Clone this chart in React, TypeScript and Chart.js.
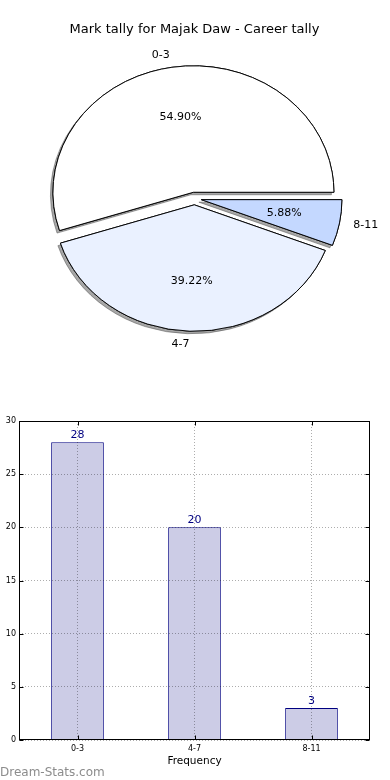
import React, { useEffect, useRef } from 'react';
import { Chart, registerables } from 'chart.js';

Chart.register(...registerables);

// ---------- data ----------
const TITLE = 'Mark tally for Majak Daw - Career tally';
const CATEGORIES = ['0-3', '4-7', '8-11'];
const COUNTS = [28, 20, 3];
const PIE_COLORS = ['#FFFFFF', '#EAF1FF', '#C4D8FF'];
const Y_MIN = 0;
const Y_MAX = 30;
const Y_STEP = 5;
const X_TITLE = 'Frequency';
const Y_TITLE = 'No. of Games';
const WATERMARK = 'Dream-Stats.com';

// ---------- style ----------
const FONT = '"DejaVu Sans", "Liberation Sans", sans-serif';
const EXPLODE = 0.05; // fraction of radius
const Y_SQUASH = 0.9; // pie drawn as ellipse
const PIE_RADIUS = 140.5;
const BAR_FILL = '#CCCCE6';
const BAR_EDGE = '#000080';
const GRID = 'rgba(0,0,0,0.32)';

// pie drawn clockwise from 3 o'clock, so reverse the order
const PIE_ORDER = [2, 1, 0];
const pieLabels = PIE_ORDER.map((i) => CATEGORIES[i]);
const pieValues = PIE_ORDER.map((i) => COUNTS[i]);
const pieColors = PIE_ORDER.map((i) => PIE_COLORS[i]);

const pieDecor = {
  id: 'pieDecor',
  beforeDatasetsDraw(chart: any) {
    const meta = chart.getDatasetMeta(0);
    const ctx = chart.ctx as CanvasRenderingContext2D;
    const arcs = meta.data as any[];
    if (!arcs.length) return;
    const cx = arcs[0].x;
    const cy = arcs[0].y;
    const r = arcs[0].outerRadius;
    const d = EXPLODE * r;
    const drawAll = () => {
      arcs.forEach((a) => {
        const m = (a.startAngle + a.endAngle) / 2;
        ctx.save();
        ctx.translate(Math.cos(m) * d, Math.sin(m) * d);
        a.draw(ctx);
        ctx.restore();
      });
    };
    ctx.save();
    ctx.translate(cx, cy);
    ctx.scale(1, Y_SQUASH);
    ctx.translate(-cx, -cy);
    ctx.shadowColor = 'rgba(60,60,60,0.45)';
    ctx.shadowOffsetX = -2.5;
    ctx.shadowOffsetY = 2.5;
    ctx.shadowBlur = 0;
    drawAll();
    ctx.shadowColor = 'rgba(0,0,0,0)';
    ctx.shadowOffsetX = 0;
    ctx.shadowOffsetY = 0;
    drawAll();
    ctx.restore();
    return false;
  },
  afterDraw(chart: any) {
    const meta = chart.getDatasetMeta(0);
    const ctx = chart.ctx as CanvasRenderingContext2D;
    const total = pieValues.reduce((a, b) => a + b, 0);
    ctx.save();
    ctx.font = `11px ${FONT}`;
    ctx.fillStyle = '#000';
    ctx.textBaseline = 'middle';
    (meta.data as any[]).forEach((arc, i) => {
      const m = (arc.startAngle + arc.endAngle) / 2;
      const c = Math.cos(m);
      const s = Math.sin(m);
      const lr = arc.outerRadius * (EXPLODE + 1.1);
      const pr = arc.outerRadius * (EXPLODE + 0.6);
      ctx.textAlign = c > 0 ? 'left' : 'right';
      ctx.fillText(pieLabels[i], arc.x + lr * c, arc.y + lr * s * Y_SQUASH);
      ctx.textAlign = 'center';
      ctx.fillText(((pieValues[i] / total) * 100).toFixed(2) + '%', arc.x + pr * c, arc.y + pr * s * Y_SQUASH);
    });
    ctx.restore();
  },
};

const barDecor = {
  id: 'barDecor',
  afterDraw(chart: any) {
    const ctx = chart.ctx as CanvasRenderingContext2D;
    const a = chart.chartArea;
    const left = Math.round(a.left) + 0.5;
    const top = Math.round(a.top) + 0.5;
    const right = Math.round(a.right) - 0.5;
    const bottom = Math.round(a.bottom) - 0.5;
    ctx.save();
    // inward ticks
    ctx.strokeStyle = '#000';
    ctx.lineWidth = 1;
    const ys = chart.scales.y;
    const xs = chart.scales.x;
    ctx.beginPath();
    ys.ticks.forEach((t: any) => {
      const py = Math.round(ys.getPixelForValue(t.value)) + 0.5;
      ctx.moveTo(left, py);
      ctx.lineTo(left + 4, py);
      ctx.moveTo(right, py);
      ctx.lineTo(right - 4, py);
    });
    CATEGORIES.forEach((_, i) => {
      const px = Math.round(xs.getPixelForValue(i)) + 0.5;
      ctx.moveTo(px, bottom);
      ctx.lineTo(px, bottom - 4);
      ctx.moveTo(px, top);
      ctx.lineTo(px, top + 4);
    });
    ctx.stroke();
    // frame
    ctx.strokeRect(left, top, right - left, bottom - top);
    // value labels
    const meta = chart.getDatasetMeta(0);
    ctx.font = `11px ${FONT}`;
    ctx.fillStyle = BAR_EDGE;
    ctx.textAlign = 'center';
    ctx.textBaseline = 'alphabetic';
    (meta.data as any[]).forEach((bar, i) => {
      ctx.fillText(String(COUNTS[i]), bar.x, bar.y - 4);
    });
    ctx.restore();
  },
};

export default function App() {
  const pieRef = useRef<HTMLCanvasElement>(null);
  const barRef = useRef<HTMLCanvasElement>(null);

  useEffect(() => {
    const pie = new Chart(pieRef.current as HTMLCanvasElement, {
      type: 'pie',
      data: {
        labels: pieLabels,
        datasets: [
          {
            data: pieValues,
            backgroundColor: pieColors,
            borderColor: '#000',
            borderWidth: 1,
            borderJoinStyle: 'miter',
            clip: false,
          } as any,
        ],
      },
      options: {
        animation: false,
        responsive: false,
        events: [],
        rotation: 90,
        radius: PIE_RADIUS,
        layout: { padding: { top: 0, bottom: 30.6, left: 0, right: 1 } },
        plugins: {
          legend: { display: false },
          tooltip: { enabled: false },
          title: {
            display: true,
            text: TITLE,
            color: '#000',
            font: { family: FONT, size: 13, weight: 'normal' },
            padding: { top: 22, bottom: 0 },
          },
        },
      } as any,
      plugins: [pieDecor],
    });

    const tickFont = { family: FONT, size: 8 };
    const bar = new Chart(barRef.current as HTMLCanvasElement, {
      type: 'bar',
      data: {
        labels: CATEGORIES,
        datasets: [
          {
            data: COUNTS,
            backgroundColor: BAR_FILL,
            borderColor: BAR_EDGE,
            borderWidth: 1,
            barPercentage: 0.45,
            categoryPercentage: 1,
          },
        ],
      },
      options: {
        animation: false,
        responsive: false,
        events: [],
        layout: { padding: { top: 21, right: 20, bottom: 0, left: 0 } },
        plugins: {
          legend: { display: false },
          tooltip: { enabled: false },
        },
        scales: {
          x: {
            offset: true,
            grid: { offset: false, z: 1, color: GRID, lineWidth: 1, drawTicks: false },
            border: { display: false, dash: [1, 2] },
            ticks: { font: tickFont, color: '#000', padding: 4, maxRotation: 0 },
            title: {
              display: true,
              text: X_TITLE,
              color: '#000',
              font: { family: FONT, size: 10.5 },
              padding: { top: 0, bottom: 12.4 },
            },
            afterFit: (s: any) => {
              s.height = 40;
            },
          },
          y: {
            min: Y_MIN,
            max: Y_MAX,
            grid: { z: 1, color: GRID, lineWidth: 1, drawTicks: false },
            border: { display: false, dash: [1, 2] },
            ticks: { stepSize: Y_STEP, font: tickFont, color: '#000', padding: 3 },
            title: {
              display: true,
              text: Y_TITLE,
              color: '#000',
              font: { family: FONT, size: 10.5 },
              padding: { top: -10, bottom: 0 },
            },
            afterFit: (s: any) => {
              s.width = 19;
            },
          },
        },
      } as any,
      plugins: [barDecor],
    });

    return () => {
      pie.destroy();
      bar.destroy();
    };
  }, []);

  return (
    <div style={{ position: 'absolute', left: 0, top: 0, width: 390, height: 780, background: '#fff', overflow: 'hidden' }}>
      <canvas ref={pieRef} width={390} height={390} style={{ position: 'absolute', left: 0, top: 0, display: 'block' }} />
      <canvas ref={barRef} width={390} height={380} style={{ position: 'absolute', left: 0, top: 400, display: 'block' }} />
      <div
        style={{
          position: 'absolute',
          left: 0,
          top: 765,
          fontFamily: FONT,
          fontSize: 12,
          lineHeight: '14px',
          color: '#8c8c8c',
          whiteSpace: 'nowrap',
        }}
      >
        {WATERMARK}
      </div>
    </div>
  );
}
